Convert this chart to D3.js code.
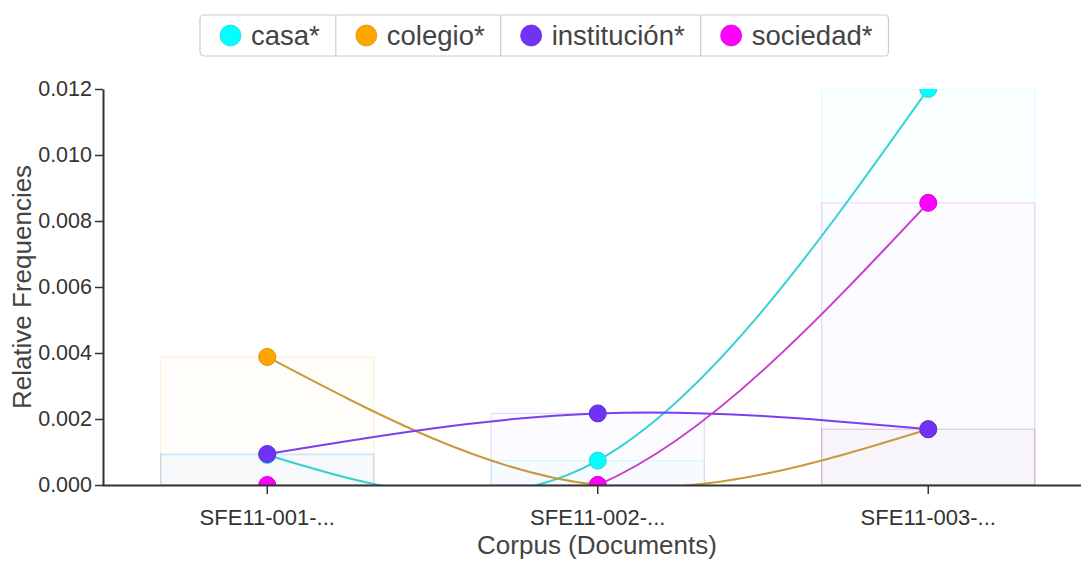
<!DOCTYPE html>
<html>
<head>
<meta charset="utf-8">
<script src="https://cdn.jsdelivr.net/npm/d3@7"></script>
<style>
  html, body { margin: 0; padding: 0; background: #fff; }
  svg { display: block; font-family: "Liberation Sans", Arial, sans-serif; }
</style>
</head>
<body>
<svg id="chart" width="1081" height="561"></svg>
<script>
// ---- data ----
const categories = ["SFE11-001-...", "SFE11-002-...", "SFE11-003-..."];
const seriesNames = ["casa*", "colegio*", "institución*", "sociedad*"];
const casa        = [0.00091, 0.00074, 0.01200];
const colegio     = [0.00388, 0.00000, 0.00169];
const institucion = [0.00094, 0.00217, 0.00169];
const sociedad    = [0.00000, 0.00000, 0.00855];
const yTicks = [0, 0.002, 0.004, 0.006, 0.008, 0.010, 0.012];
const xTitle = "Corpus (Documents)";
const yTitle = "Relative Frequencies";

const seriesValues = [casa, colegio, institucion, sociedad];
const dotColors  = ["#00ffff", "#ffa500", "#7033f5", "#ff00ff"];
const dotStroke  = ["#2fd3d3", "#d99400", "#5f28d8", "#d800d8"];
const lineColors = ["#33d1d1", "#c99a3c", "#7a40ee", "#c93ccc"];

const svg = d3.select("#chart");
const plotLeft = 103, plotTop = 89, plotBottom = 485;

const x = d3.scaleBand().domain(categories).range([102, 1093.5])
  .paddingInner(0.355).paddingOuter(0.1775);
const y = d3.scaleLinear().domain([0, 0.012]).range([plotBottom, plotTop]);

svg.append("defs").append("clipPath").attr("id", "plotclip")
  .append("rect").attr("x", plotLeft).attr("y", plotTop).attr("width", 1081 - plotLeft).attr("height", plotBottom - plotTop);

const plot = svg.append("g").attr("clip-path", "url(#plotclip)");

// bars
seriesValues.forEach((vals, si) => {
  plot.append("g").selectAll("rect").data(vals).join("rect")
    .attr("x", (d, i) => x(categories[i]))
    .attr("width", x.bandwidth())
    .attr("y", d => y(d))
    .attr("height", d => plotBottom - y(d))
    .attr("fill", dotColors[si]).attr("fill-opacity", 0.018)
    .attr("stroke", dotColors[si]).attr("stroke-opacity", 0.16).attr("stroke-width", 1.2);
});

// lines
const line = d3.line()
  .x((d, i) => x(categories[i]) + x.bandwidth() / 2)
  .y(d => y(d))
  .curve(d3.curveNatural);
seriesValues.forEach((vals, si) => {
  plot.append("path").datum(vals)
    .attr("d", line).attr("fill", "none")
    .attr("stroke", lineColors[si]).attr("stroke-width", 2);
});

// dots
seriesValues.forEach((vals, si) => {
  plot.append("g").selectAll("circle").data(vals).join("circle")
    .attr("cx", (d, i) => x(categories[i]) + x.bandwidth() / 2)
    .attr("cy", d => y(d))
    .attr("r", 8.5)
    .attr("fill", dotColors[si])
    .attr("stroke", dotStroke[si]).attr("stroke-width", 1);
});

// axes
const yAxis = svg.append("g").attr("transform", `translate(${plotLeft},0)`)
  .call(d3.axisLeft(y).tickValues(yTicks).tickFormat(d3.format(".3f")).tickSize(8).tickSizeOuter(0).tickPadding(3));
const xAxis = svg.append("g").attr("transform", `translate(0,${plotBottom})`)
  .call(d3.axisBottom(x).tickSize(9).tickSizeOuter(0).tickPadding(15));
[yAxis, xAxis].forEach(g => {
  g.select(".domain").attr("stroke", "#333").attr("stroke-width", 2);
  g.selectAll(".tick line").attr("stroke", "#333").attr("stroke-width", 1.5);
  g.selectAll(".tick text").attr("fill", "#333").style("font-size", "22px")
    .style("font-family", "'Liberation Sans', Arial, sans-serif");
});
yAxis.selectAll(".tick text").style("font-size", "21.5px");

// titles
svg.append("text").attr("x", 597).attr("y", 554).attr("text-anchor", "middle")
  .attr("fill", "#444").style("font-size", "26px").text(xTitle);
svg.append("text").attr("transform", "translate(31,287) rotate(-90)").attr("text-anchor", "middle")
  .attr("fill", "#444").style("font-size", "26px").text(yTitle);

// legend
const lg = svg.append("g");
const legendTop = 15, legendH = 41;
let cx = 200;
const items = [];
seriesNames.forEach((name, i) => {
  const g = lg.append("g");
  const t = g.append("text").attr("y", 44.5)
    .attr("fill", "#444").style("font-size", "27.5px").text(name);
  const tw = t.node().getComputedTextLength();
  const w = 20 + 21 + 10 + tw + 16;
  g.append("circle").attr("cx", cx + 30.5).attr("cy", legendTop + legendH / 2).attr("r", 10.5)
    .attr("fill", dotColors[i]).attr("stroke", dotStroke[i]).attr("stroke-width", 0.8);
  t.attr("x", cx + 51);
  items.push([cx, w]);
  cx += w;
});
lg.insert("rect", ":first-child").attr("x", 200).attr("y", legendTop).attr("width", cx - 200).attr("height", legendH)
  .attr("rx", 4).attr("fill", "#fff").attr("stroke", "#ccc").attr("stroke-width", 1.2);
items.slice(1).forEach(([ix]) => {
  lg.append("line").attr("x1", ix).attr("x2", ix).attr("y1", legendTop).attr("y2", legendTop + legendH)
    .attr("stroke", "#ccc").attr("stroke-width", 1.2);
});
</script>
</body>
</html>
